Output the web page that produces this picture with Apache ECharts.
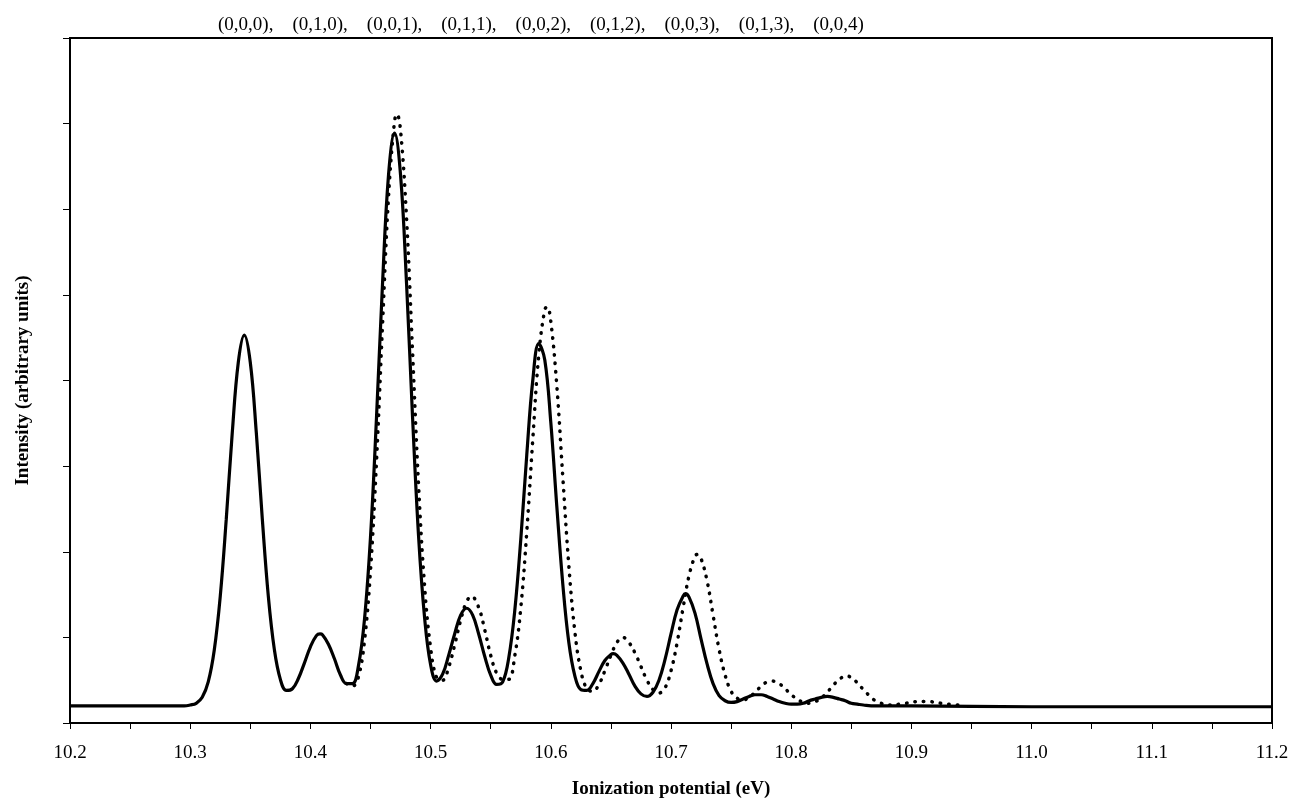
<!DOCTYPE html>
<html>
<head>
<meta charset="utf-8">
<script src="https://cdn.jsdelivr.net/npm/echarts@6/dist/echarts.min.js"></script>
<style>
  html, body { margin: 0; padding: 0; background: #fff; }
  #chart { width: 1293px; height: 804px; }
</style>
</head>
<body>
<div id="chart"></div>
<script>
// Vibrational band labels shown above the plot
const bandLabels = ['(0,0,0)', '(0,1,0)', '(0,0,1)', '(0,1,1)', '(0,0,2)', '(0,1,2)', '(0,0,3)', '(0,1,3)', '(0,0,4)'];

// Solid curve (ionization potential in eV, intensity in arbitrary units)
const solidEnergy = [
  10.200, 10.250, 10.280, 10.290, 10.295, 10.300, 10.305, 10.310, 10.315, 10.320,
  10.325, 10.330, 10.335, 10.340, 10.345, 10.350, 10.355, 10.360, 10.365, 10.370,
  10.375, 10.380, 10.385, 10.390, 10.395, 10.400, 10.405, 10.408, 10.410, 10.415,
  10.420, 10.425, 10.430, 10.435, 10.440, 10.445, 10.450, 10.455, 10.460, 10.465,
  10.470, 10.475, 10.480, 10.485, 10.490, 10.495, 10.500, 10.505, 10.510, 10.515,
  10.520, 10.525, 10.530, 10.535, 10.540, 10.545, 10.550, 10.555, 10.560, 10.565,
  10.570, 10.575, 10.580, 10.585, 10.590, 10.595, 10.600, 10.605, 10.610, 10.615,
  10.620, 10.625, 10.630, 10.635, 10.640, 10.645, 10.650, 10.652, 10.655, 10.660,
  10.665, 10.670, 10.675, 10.680, 10.685, 10.690, 10.695, 10.700, 10.705, 10.710,
  10.712, 10.715, 10.720, 10.725, 10.730, 10.735, 10.740, 10.745, 10.750, 10.755,
  10.760, 10.765, 10.770, 10.773, 10.775, 10.780, 10.785, 10.790, 10.795, 10.800,
  10.805, 10.810, 10.815, 10.820, 10.825, 10.830, 10.835, 10.840, 10.845, 10.850,
  10.855, 10.860, 10.870, 10.900, 11.000, 11.100, 11.200
];
const solidIntensity = [
  0.20, 0.20, 0.20, 0.20, 0.20, 0.21, 0.23, 0.30, 0.48, 0.85,
  1.48, 2.38, 3.39, 4.21, 4.53, 4.21, 3.39, 2.38, 1.48, 0.86,
  0.51, 0.38, 0.40, 0.52, 0.70, 0.89, 1.02, 1.04, 1.03, 0.92,
  0.75, 0.56, 0.46, 0.46, 0.67, 1.21, 2.17, 3.57, 5.13, 6.40,
  6.89, 6.40, 5.13, 3.57, 2.18, 1.23, 0.68, 0.49, 0.57, 0.79,
  1.04, 1.26, 1.34, 1.26, 1.04, 0.78, 0.56, 0.45, 0.48, 0.76,
  1.31, 2.14, 3.13, 4.00, 4.43, 4.24, 3.51, 2.53, 1.62, 0.94,
  0.55, 0.39, 0.38, 0.46, 0.60, 0.73, 0.80, 0.81, 0.79, 0.70,
  0.57, 0.43, 0.34, 0.31, 0.36, 0.50, 0.74, 1.04, 1.32, 1.48,
  1.51, 1.47, 1.28, 0.98, 0.69, 0.46, 0.32, 0.26, 0.24, 0.25,
  0.28, 0.31, 0.33, 0.33, 0.33, 0.31, 0.28, 0.25, 0.23, 0.22,
  0.22, 0.23, 0.26, 0.28, 0.30, 0.31, 0.30, 0.28, 0.26, 0.23,
  0.22, 0.21, 0.20, 0.20, 0.19, 0.19, 0.19
];

// Dotted curve
const dottedEnergy = [
  10.430, 10.435, 10.440, 10.445, 10.450, 10.455, 10.460, 10.465, 10.470, 10.472,
  10.475, 10.480, 10.485, 10.490, 10.495, 10.500, 10.505, 10.510, 10.515, 10.520,
  10.525, 10.530, 10.534, 10.540, 10.545, 10.550, 10.555, 10.560, 10.565, 10.570,
  10.575, 10.580, 10.585, 10.590, 10.595, 10.597, 10.600, 10.605, 10.610, 10.615,
  10.620, 10.625, 10.630, 10.635, 10.640, 10.645, 10.650, 10.655, 10.660, 10.665,
  10.670, 10.675, 10.680, 10.685, 10.690, 10.695, 10.700, 10.705, 10.710, 10.715,
  10.720, 10.722, 10.725, 10.730, 10.735, 10.740, 10.745, 10.750, 10.755, 10.760,
  10.765, 10.770, 10.775, 10.780, 10.784, 10.790, 10.795, 10.800, 10.805, 10.810,
  10.815, 10.820, 10.825, 10.830, 10.835, 10.840, 10.846, 10.850, 10.855, 10.860,
  10.865, 10.870, 10.875, 10.880, 10.885, 10.890, 10.895, 10.900, 10.905, 10.911,
  10.915, 10.920, 10.925, 10.930, 10.940
];
const dottedIntensity = [
  0.46, 0.43, 0.54, 0.96, 1.78, 3.06, 4.65, 6.15, 7.03, 7.11,
  6.92, 5.89, 4.33, 2.77, 1.60, 0.88, 0.53, 0.50, 0.65, 0.91,
  1.20, 1.42, 1.48, 1.35, 1.09, 0.79, 0.58, 0.51, 0.51, 0.78,
  1.34, 2.23, 3.31, 4.30, 4.83, 4.86, 4.69, 3.94, 2.87, 1.84,
  1.07, 0.61, 0.40, 0.37, 0.45, 0.61, 0.79, 0.94, 1.00, 0.94,
  0.82, 0.66, 0.50, 0.39, 0.35, 0.41, 0.61, 0.93, 1.34, 1.72,
  1.95, 1.97, 1.92, 1.66, 1.26, 0.86, 0.56, 0.37, 0.29, 0.27,
  0.30, 0.36, 0.43, 0.48, 0.49, 0.46, 0.40, 0.33, 0.28, 0.24,
  0.23, 0.25, 0.29, 0.36, 0.44, 0.51, 0.55, 0.53, 0.47, 0.39,
  0.32, 0.26, 0.23, 0.21, 0.21, 0.22, 0.23, 0.24, 0.25, 0.25,
  0.25, 0.24, 0.23, 0.22, 0.21
];

const xAxisRange = [10.2, 11.2];
const yAxisRange = [0, 8];

const pair = (xs, ys) => xs.map((x, i) => [x, ys[i]]);
const serif = 'Liberation Serif, "Times New Roman", serif';

const chart = echarts.init(document.getElementById('chart'), null, { renderer: 'canvas' });
chart.setOption({
  animation: false,
  backgroundColor: '#ffffff',
  title: {
    text: bandLabels.join(',    '),
    left: 213,
    top: 11,
    textStyle: { fontFamily: serif, fontWeight: 'normal', fontSize: 19, color: '#000' }
  },
  grid: {
    left: 70, right: 21, top: 38, bottom: 76,
    show: true, borderColor: '#000', borderWidth: 2, backgroundColor: 'transparent'
  },
  xAxis: {
    type: 'value',
    min: xAxisRange[0], max: xAxisRange[1], interval: 0.1,
    name: 'Ionization potential (eV)',
    nameLocation: 'middle',
    nameGap: 57,
    nameTextStyle: { fontFamily: serif, fontWeight: 'bold', fontSize: 19, color: '#000' },
    axisLine: { show: true, onZero: false, lineStyle: { color: '#000', width: 2 } },
    axisTick: { show: true, inside: false, length: 6, lineStyle: { color: '#000', width: 1 } },
    minorTick: { show: true, splitNumber: 2, length: 6, lineStyle: { color: '#000', width: 1 } },
    axisLabel: {
      show: true, margin: 21, color: '#000', fontFamily: serif, fontSize: 19,
      formatter: v => v.toFixed(1)
    },
    splitLine: { show: false }
  },
  yAxis: {
    type: 'value',
    min: yAxisRange[0], max: yAxisRange[1], interval: 1,
    name: 'Intensity (arbitrary units)',
    nameLocation: 'middle',
    nameGap: 37,
    nameRotate: 90,
    nameTextStyle: { fontFamily: serif, fontWeight: 'bold', fontSize: 19, color: '#000' },
    axisLine: { show: true, onZero: false, lineStyle: { color: '#000', width: 2 } },
    axisTick: { show: true, inside: false, length: 7, lineStyle: { color: '#000', width: 1 } },
    axisLabel: { show: false },
    splitLine: { show: false }
  },
  series: [
    {
      type: 'line',
      data: pair(solidEnergy, solidIntensity),
      showSymbol: false,
      symbol: 'none',
      smooth: 0.4,
      lineStyle: { color: '#000', width: 3.2 },
      z: 2
    },
    {
      type: 'line',
      data: pair(dottedEnergy, dottedIntensity),
      showSymbol: false,
      symbol: 'none',
      smooth: 0.4,
      lineStyle: { color: '#000', width: 3.5, type: [0.5, 8], cap: 'round' },
      z: 3
    }
  ]
});
</script>
</body>
</html>
